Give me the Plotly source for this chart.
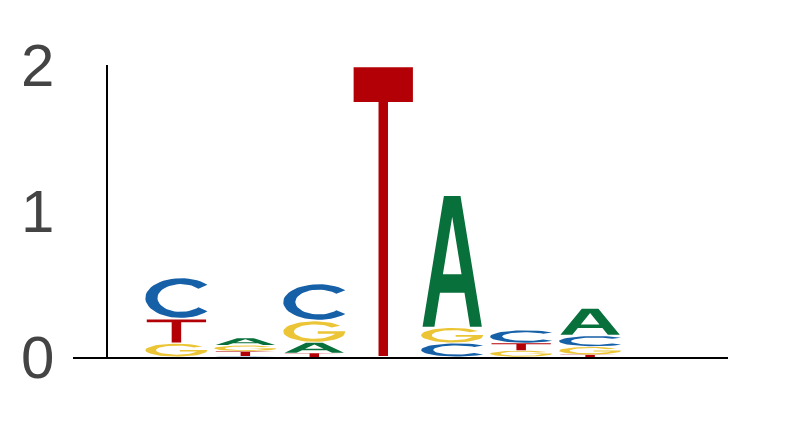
import numpy as np
import plotly.graph_objects as go

positions = [1, 2, 3, 4, 5, 6, 7, 8]
a_bits = [0.0, 0.050, 0.072, 0.0, 0.907, 0.0, 0.190, 0.0]
c_bits = [0.284, 0.005, 0.255, 0.0, 0.096, 0.090, 0.075, 0.0]
g_bits = [0.094, 0.041, 0.150, 0.0, 0.106, 0.045, 0.055, 0.0]
t_bits = [0.168, 0.034, 0.027, 1.990, 0.0, 0.050, 0.016, 0.0]

colors = {'A': '#08703a', 'C': '#1660a8', 'G': '#ebc535', 'T': '#b20006'}
bits = {'A': a_bits, 'C': c_bits, 'G': g_bits, 'T': t_bits}


def arc(cx, cy, rx, ry, t0, t1, n=40):
    t = np.radians(np.linspace(t0, t1, n))
    return list(cx + rx * np.cos(t)), list(cy + ry * np.sin(t))


# glyph outlines in a unit box (u across, v up)
def glyph(letter):
    if letter == 'T':
        u = [0, 1, 1, 0.58, 0.58, 0.42, 0.42, 0]
        v = [1, 1, 0.88, 0.88, 0, 0, 0.88, 0.88]
    elif letter == 'A':
        u = [0, 0.2, 0.293, 0.707, 0.8, 1, 0.64, 0.36, None,
             0.343, 0.5, 0.657]
        v = [0, 0, 0.26, 0.26, 0, 0, 1, 1, None,
             0.40, 0.84, 0.40]
    elif letter == 'C':
        ou, ov = arc(0.5, 0.5, 0.5, 0.5, 42, 318)
        iu, iv = arc(0.5, 0.5, 0.33, 0.35, 318, 42)
        u, v = ou + iu, ov + iv
    else:
        ou, ov = arc(0.5, 0.5, 0.5, 0.5, 35, 340)
        iu, iv = arc(0.5, 0.5, 0.33, 0.35, -20, -325)
        u = ou + [0.99, 0.55, 0.55, 0.83] + iu
        v = ov + [0.52, 0.52, 0.40, 0.40] + iv
    # stretch to fill the box
    lo = min(a for a in u if a is not None)
    hi = max(a for a in u if a is not None)
    u = [None if a is None else (a - lo) / (hi - lo) for a in u]
    return u, v


fig = go.Figure()

for i, pos in enumerate(positions):
    stack = sorted([(bits[l][i], l) for l in 'ACGT' if bits[l][i] > 0])
    y0 = 0.0
    for h, letter in stack:
        w = 0.9 if letter in 'CG' else 0.86
        pad = min(0.03 * h, 0.006)
        u, v = glyph(letter)
        xs = [None if a is None else pos - w / 2 + a * w for a in u]
        ys = [None if b is None else y0 + pad + b * (h - 2 * pad) for b in v]
        fig.add_trace(go.Scatter(x=xs, y=ys, mode='lines', fill='toself',
                                 fillcolor=colors[letter],
                                 line=dict(width=0, color=colors[letter]),
                                 hoverinfo='skip', showlegend=False))
        y0 += h

# page body adds 8px, so the figure is 8px smaller on each side
fig.update_layout(
    width=785, height=421,
    margin=dict(l=65, r=65, t=57, b=72, autoexpand=False),
    plot_bgcolor='white', paper_bgcolor='white',
    font=dict(family='Liberation Sans, Arial, sans-serif', color='#444444'),
    xaxis=dict(range=[-0.5, 9], showgrid=False, zeroline=False,
               showticklabels=False, ticks='', showline=True,
               linecolor='black', linewidth=2, fixedrange=True,
               automargin=False),
    yaxis=dict(range=[0, 2], anchor='free', position=0.5 / 9.5,
               showgrid=False, zeroline=False, showline=True,
               linecolor='black', linewidth=2, tickvals=[0, 1, 2],
               ticks='', ticklabelstandoff=40, automargin=False,
               tickfont=dict(size=60, color='#444444'), fixedrange=True),
)

fig.write_html("out.html")
